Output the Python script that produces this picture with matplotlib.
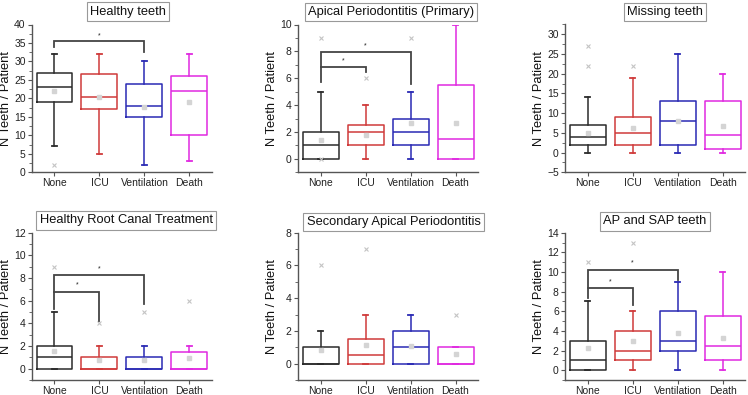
import matplotlib
matplotlib.use("Agg")
import matplotlib.pyplot as plt
from matplotlib.ticker import MultipleLocator

plt.rcParams['font.family'] = ['Liberation Sans', 'DejaVu Sans']

categories = ["None", "ICU", "Ventilation", "Death"]
colors = ["#2b2b2b", "#d03a3a", "#2a2ab4", "#e02ae0"]

# ---- Healthy teeth
healthy_lo = [7, 5, 2, 3]
healthy_q1 = [19, 17, 15, 10]
healthy_med = [23, 20.5, 18, 22]
healthy_q3 = [27, 26.5, 24, 26]
healthy_hi = [32, 32, 30, 32]
healthy_mean = [22, 20.5, 17.7, 19]
healthy_extra = [[2], [], [], []]

# ---- Apical Periodontitis (Primary)
ap_lo = [0, 0, 0, 0]
ap_q1 = [0, 1, 1, 0]
ap_med = [1, 2, 2, 1.5]
ap_q3 = [2, 2.5, 3, 5.5]
ap_hi = [5, 4, 5, 10]
ap_mean = [1.4, 1.8, 2.7, 2.7]
ap_extra = [[9, 0], [6], [9], []]

# ---- Missing teeth
miss_lo = [0, 0, 0, 0]
miss_q1 = [2, 2, 2, 1]
miss_med = [4, 5, 8, 4.5]
miss_q3 = [7, 9, 13, 13]
miss_hi = [14, 19, 25, 20]
miss_mean = [5, 6.25, 8, 6.8]
miss_extra = [[22, 27], [22], [], []]

# ---- Healthy Root Canal Treatment
rct_lo = [0, 0, 0, 0]
rct_q1 = [0, 0, 0, 0]
rct_med = [1, 0, 0, 0]
rct_q3 = [2, 1, 1, 1.5]
rct_hi = [5, 2, 2, 2]
rct_mean = [1.6, 0.8, 0.75, 0.95]
rct_extra = [[9], [4], [5], [6]]

# ---- Secondary Apical Periodontitis
sap_lo = [0, 0, 0, 0]
sap_q1 = [0, 0, 0, 0]
sap_med = [0, 0.5, 1, 0]
sap_q3 = [1, 1.5, 2, 1]
sap_hi = [2, 3, 3, 1]
sap_mean = [0.83, 1.15, 1.1, 0.57]
sap_extra = [[6], [7], [], [3]]

# ---- AP and SAP teeth
apsap_lo = [0, 0, 0, 0]
apsap_q1 = [0, 1, 2, 1]
apsap_med = [1, 2, 3, 2.5]
apsap_q3 = [3, 4, 6, 5.5]
apsap_hi = [7, 6, 9, 10]
apsap_mean = [2.25, 3, 3.8, 3.3]
apsap_extra = [[11], [13], [], []]

titles = ["Healthy teeth", "Apical Periodontitis (Primary)", "Missing teeth",
          "Healthy Root Canal Treatment", "Secondary Apical Periodontitis", "AP and SAP teeth"]

# significance brackets: (group a, group b, bar height, left leg end, right leg end, star x, star y)
sig_healthy = [(1, 3, 35.5, 34, 32.5, 2, 37)]
sig_ap = [(1, 2, 6.8, 5.75, 6.5, 1.5, 7.3), (1, 3, 7.95, 6.8, 5.6, 2, 8.4)]
sig_miss = []
sig_rct = [(1, 2, 6.8, 5.3, 4.2, 1.5, 7.35), (1, 3, 8.3, 6.8, 5.7, 2, 8.8)]
sig_sap = []
sig_apsap = [(1, 2, 8.35, 7.4, 6.6, 1.5, 9.0), (1, 3, 10.2, 8.35, 9.2, 2, 10.9)]

panels = [
    (healthy_lo, healthy_q1, healthy_med, healthy_q3, healthy_hi, healthy_mean, healthy_extra, sig_healthy, (0, 40), 5, 2.5),
    (ap_lo, ap_q1, ap_med, ap_q3, ap_hi, ap_mean, ap_extra, sig_ap, (-1, 10), 2, 1),
    (miss_lo, miss_q1, miss_med, miss_q3, miss_hi, miss_mean, miss_extra, sig_miss, (-5, 32.5), 5, 2.5),
    (rct_lo, rct_q1, rct_med, rct_q3, rct_hi, rct_mean, rct_extra, sig_rct, (-1, 12), 2, 1),
    (sap_lo, sap_q1, sap_med, sap_q3, sap_hi, sap_mean, sap_extra, sig_sap, (-1, 8), 2, 1),
    (apsap_lo, apsap_q1, apsap_med, apsap_q3, apsap_hi, apsap_mean, apsap_extra, sig_apsap, (-1, 14), 2, 1),
]

W, H = 748, 395
fig = plt.figure(figsize=(W / 100, H / 100), dpi=100)

col_left = [32, 298, 565]
row_span = [(24.5, 172.3), (232.7, 380.0)]
ax_w = 180
title_pos = [(128, 11.5), (391, 12), (664.7, 12), (126, 220.5), (393.5, 222), (655, 221.5)]

axis_col = "#555555"
for i, (lo, q1, med, q3, hi, mean, extra, sig, ylim, maj, mnr) in enumerate(panels):
    r, c = divmod(i, 3)
    top, bot = row_span[r]
    ax = fig.add_axes([col_left[c] / W, 1 - bot / H, ax_w / W, (bot - top) / H])
    stats = []
    for k in range(4):
        stats.append(dict(whislo=lo[k], q1=q1[k], med=med[k], q3=q3[k], whishi=hi[k],
                          mean=mean[k], fliers=extra[k], label=categories[k]))
    pos = [1, 2, 3, 4]
    for k in range(4):
        col = colors[k]
        ax.bxp([stats[k]], positions=[pos[k]], widths=0.8, showmeans=True,
               showfliers=True, capwidths=0.12,
               boxprops=dict(color=col, linewidth=1.1),
               medianprops=dict(color=col, linewidth=1.1),
               whiskerprops=dict(color=col, linewidth=1.1),
               capprops=dict(color=col, linewidth=1.3),
               meanprops=dict(marker='s', markersize=2.5, markerfacecolor='#d4d4d4',
                              markeredgecolor='#d4d4d4'),
               flierprops=dict(marker='x', markersize=2.5, markeredgecolor='#c4c4c4',
                               markeredgewidth=0.8))
    for (a, b, yb, yl, yr, sx, sy) in sig:
        ax.plot([a, a, b, b], [yl, yb, yb, yr], color="#444444", linewidth=1.3,
                solid_joinstyle='miter')
        ax.text(sx, sy, "*", ha='center', va='center', fontsize=5, color='#222222')
    ax.set_xlim(0.5, 4.5)
    ax.set_ylim(*ylim)
    ax.set_xticks(pos)
    ax.set_xticklabels(categories)
    ax.yaxis.set_major_locator(MultipleLocator(maj))
    ax.yaxis.set_minor_locator(MultipleLocator(mnr))
    lo_t = 0 if ylim[0] > -5 else ylim[0]
    ax.set_yticks([t for t in ax.get_yticks() if lo_t <= t <= ylim[1] + 1e-9])
    ax.set_ylim(*ylim)
    for s in ["top", "right"]:
        ax.spines[s].set_visible(False)
    for s in ["left", "bottom"]:
        ax.spines[s].set_color(axis_col)
        ax.spines[s].set_linewidth(1.0)
    ax.tick_params(axis='both', which='major', labelsize=7.5, length=3, color=axis_col,
                   labelcolor='#222222', pad=1.5)
    ax.tick_params(axis='x', which='major', pad=1)
    ax.tick_params(axis='y', which='minor', length=2, color=axis_col)
    ax.set_ylabel("N Teeth / Patient", fontsize=9.3, color='#111111')
    ax.yaxis.set_label_coords(-20 / ax_w, 0.5)
    tx, ty = title_pos[i]
    fig.text(tx / W, 1 - ty / H, titles[i], ha='center', va='center', fontsize=9.3,
             color='#111111',
             bbox=dict(boxstyle='square,pad=0.25', facecolor='white', edgecolor='#999999',
                       linewidth=0.8))

fig.savefig("out.png", dpi=100)
